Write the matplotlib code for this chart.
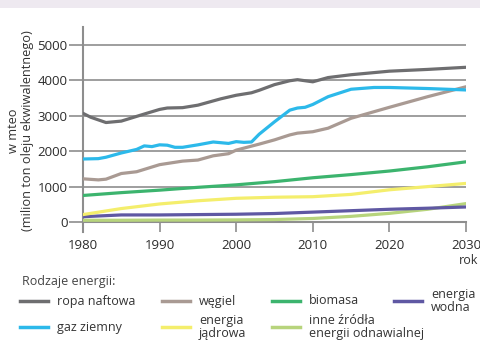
import matplotlib.pyplot as plt
from matplotlib.lines import Line2D
from matplotlib.patches import Rectangle

plt.rcParams['font.family'] = ['Open Sans', 'DejaVu Sans']

# data (mteo)
oil_years = [1980, 1981, 1983, 1985, 1988, 1990, 1991, 1993, 1995, 1998, 2000, 2002, 2003, 2005, 2007, 2008, 2009, 2010, 2012, 2015, 2020, 2025, 2030]
oil = [3070, 2960, 2810, 2850, 3050, 3180, 3220, 3230, 3300, 3480, 3580, 3650, 3720, 3880, 3990, 4020, 3990, 3960, 4080, 4160, 4260, 4310, 4370]

gas_years = [1980, 1982, 1983, 1985, 1987, 1988, 1989, 1990, 1991, 1992, 1993, 1995, 1997, 1999, 2000, 2001, 2002, 2003, 2005, 2007, 2008, 2009, 2010, 2012, 2015, 2018, 2020, 2025, 2030]
gas = [1780, 1790, 1830, 1950, 2050, 2150, 2130, 2180, 2170, 2110, 2110, 2180, 2260, 2220, 2270, 2250, 2260, 2480, 2830, 3160, 3220, 3240, 3320, 3540, 3750, 3800, 3800, 3770, 3730]

coal_years = [1980, 1982, 1983, 1985, 1987, 1990, 1993, 1995, 1997, 1999, 2000, 2003, 2005, 2007, 2008, 2010, 2012, 2015, 2020, 2025, 2030]
coal = [1220, 1190, 1210, 1370, 1420, 1620, 1720, 1750, 1870, 1930, 2030, 2200, 2320, 2460, 2510, 2550, 2650, 2930, 3240, 3540, 3820]

years = [1980, 1985, 1990, 1995, 2000, 2005, 2010, 2015, 2020, 2025, 2030]
biomass = [750, 830, 900, 980, 1050, 1140, 1250, 1340, 1440, 1560, 1700]
nuclear = [210, 380, 510, 600, 670, 700, 715, 780, 910, 1000, 1090]
hydro = [150, 200, 200, 210, 220, 240, 280, 320, 360, 390, 425]
other = [50, 50, 55, 55, 60, 70, 100, 160, 245, 360, 520]

fig = plt.figure(figsize=(4.8, 3.43), dpi=100)
fig.patch.set_facecolor('white')
fig.patches.append(Rectangle((0, 0.978), 1, 0.022, transform=fig.transFigure,
                             facecolor='#eee9f0', edgecolor='none'))
ax = fig.add_axes([0.1729, 0.3236, 0.7979, 0.5977])

grid_c = '#8e8e8e'
for v in [1000, 2000, 3000, 4000, 5000]:
    ax.axhline(v, color=grid_c, lw=1.2, zorder=1)

kw = dict(lw=2.3, zorder=3, solid_joinstyle='round', solid_capstyle='round')
ax.plot(years, other, color='#b7d47c', **kw)
ax.plot(years, hydro, color='#5f58a3', **kw)
ax.plot(years, nuclear, color='#f4ee6c', **kw)
ax.plot(years, biomass, color='#3cb46e', **kw)
ax.plot(coal_years, coal, color='#a99a93', **kw)
ax.plot(gas_years, gas, color='#2cb9ea', **kw)
ax.plot(oil_years, oil, color='#6e6e70', **kw)

ax.set_xlim(1980, 2030)
ax.set_ylim(-282, 5508)
ax.set_xticks([1980, 1990, 2000, 2010, 2020, 2030])
ax.set_yticks([0, 1000, 2000, 3000, 4000, 5000])

for s in ['top', 'right']:
    ax.spines[s].set_visible(False)
ax.spines['bottom'].set_position(('data', 0))
ax.spines['bottom'].set_color(grid_c)
ax.spines['bottom'].set_linewidth(1.5)
ax.spines['left'].set_color(grid_c)
ax.spines['left'].set_linewidth(1.5)
ax.tick_params(axis='x', direction='out', length=7, width=1.2, color=grid_c,
               labelsize=9.5, labelcolor='#2b2b2b', pad=5)
ax.tick_params(axis='y', direction='out', length=10, width=1.2, color=grid_c,
               labelsize=9.5, labelcolor='#2b2b2b', pad=1)

fig.text(0.043, 0.62, 'w mteo\n(milion ton oleju ekwiwalentnego)', rotation=90,
         ha='center', va='center', fontsize=9.2, color='#333333', linespacing=1.05)
fig.text(0.996, 1 - 260 / 343, 'rok', ha='right', va='center', fontsize=9, color='#333333')

# legend
fig.text(22 / 480, 1 - 282 / 343, 'Rodzaje energii:', ha='left', va='center',
         fontsize=9, color='#444444')
entries = [
    ('ropa naftowa', '#6e6e70', 20, 301),
    ('węgiel', '#a99a93', 162, 301),
    ('biomasa', '#3cb46e', 272, 301),
    ('energia\nwodna', '#5f58a3', 394, 301),
    ('gaz ziemny', '#2cb9ea', 20, 327),
    ('energia\njądrowa', '#f4ee6c', 162, 327),
    ('inne źródła\nenergii odnawialnej', '#b7d47c', 272, 327),
]
for label, c, x0, y0 in entries:
    yf = 1 - y0 / 343
    fig.add_artist(Line2D([x0 / 480, (x0 + 28) / 480], [yf, yf], color=c, lw=2.5,
                          transform=fig.transFigure))
    fig.text((x0 + 37) / 480, yf, label, ha='left', va='center', fontsize=9,
             color='#333333', linespacing=0.92)

fig.savefig('out.png', dpi=100)
